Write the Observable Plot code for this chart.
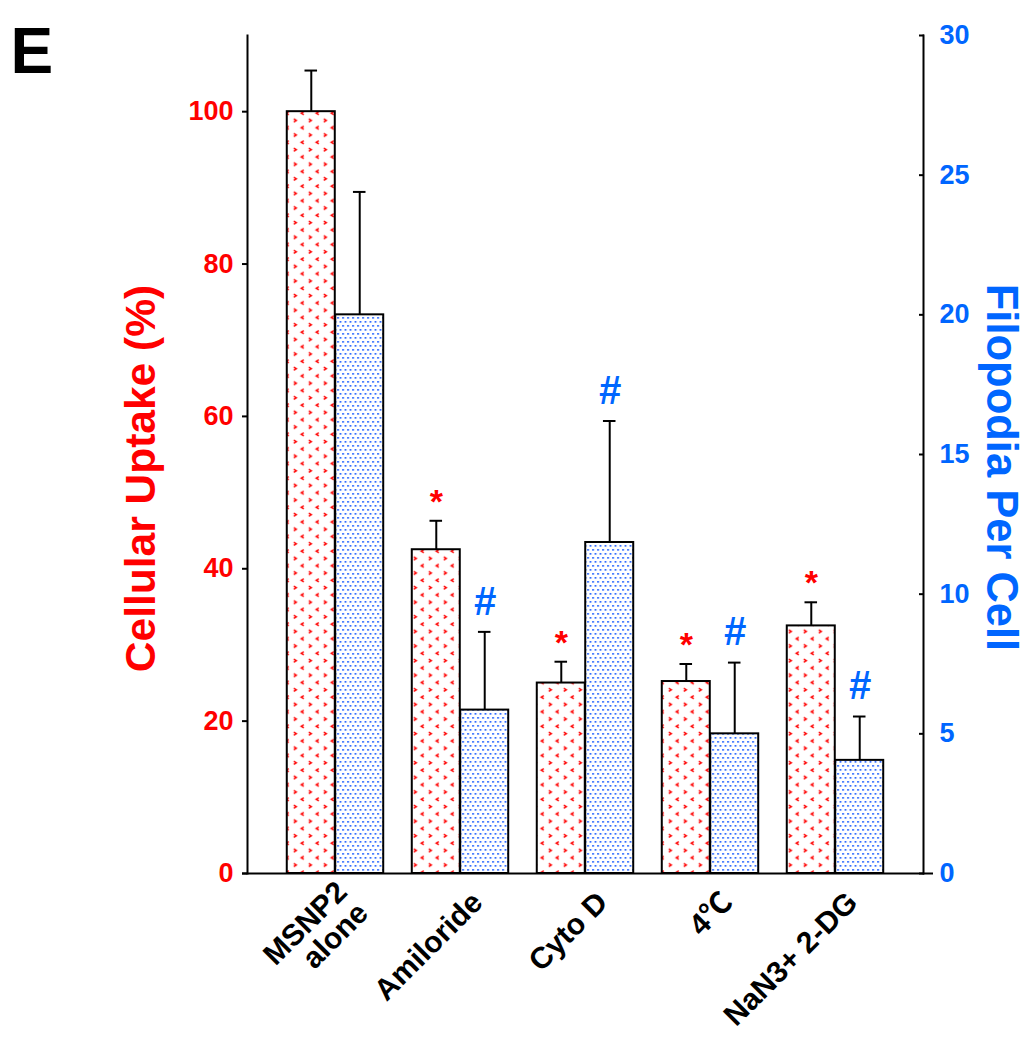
<!DOCTYPE html>
<html>
<head>
<meta charset="utf-8">
<script src="https://cdn.jsdelivr.net/npm/d3@7"></script>
<script src="https://cdn.jsdelivr.net/npm/@observablehq/plot@0.6"></script>
<style>
  html, body { margin: 0; padding: 0; background: #fff; }
</style>
</head>
<body>
<div id="chart"></div>
<script>
// ---- data ----
const categories = ["MSNP2\nalone", "Amiloride", "Cyto D", "4\u2103", "NaN3+ 2-DG"];
const uptake = [100, 42.5, 25.0, 25.2, 32.5];          // Cellular Uptake (%)
const uptakeSD = [5.4, 3.8, 2.8, 2.3, 3.1];
const filopodia = [20.0, 5.85, 11.85, 5.0, 4.05];     // Filopodia per cell
const filopodiaSD = [4.4, 2.8, 4.35, 2.55, 1.57];
const uptakeMark = ["", "*", "*", "*", "*"];
const filopodiaMark = ["", "#", "#", "#", "#"];
const leftTicks = [0, 20, 40, 60, 80, 100];
const rightTicks = [0, 5, 10, 15, 20, 25, 30];
const leftMax = 110, rightMax = 30;

// ---- layout ----
const W = 1029, H = 1050;
const mL = 247, mR = 106, mT = 35, mB = 177;
const pIn = 0.614, pOut = 0.5;
const step = (W - mL - mR) / (categories.length - pIn + 2 * pOut);
const bw = step * (1 - pIn);
const k = leftMax / rightMax;
const RED = "#ff0000", BLUE = "#0066ff";
const FONT = "'Liberation Sans', Arial, 'Noto Sans CJK SC', sans-serif";

const rows = categories.map((c, i) => ({
  cat: c,
  u: uptake[i], uTop: uptake[i] + uptakeSD[i], uMark: uptakeMark[i],
  f: filopodia[i] * k, fTop: (filopodia[i] + filopodiaSD[i]) * k, fMark: filopodiaMark[i]
}));
const capInset = (bw - 13) / 2;

const chart = Plot.plot({
  width: W, height: H,
  marginLeft: mL, marginRight: mR, marginTop: mT, marginBottom: mB,
  style: {fontFamily: FONT, background: "#fff", color: "black"},
  x: {domain: categories, paddingInner: pIn, paddingOuter: pOut, axis: null},
  y: {domain: [0, leftMax], axis: null},
  marks: [
    // bars
    Plot.barY(rows, {x: "cat", y: "u", dx: -bw / 2, fill: "url(#redPat)", stroke: "black", strokeWidth: 2}),
    Plot.barY(rows, {x: "cat", y: "f", dx: bw / 2, fill: "url(#bluePat)", stroke: "black", strokeWidth: 2}),
    // error bars
    Plot.ruleX(rows, {x: "cat", y1: "u", y2: "uTop", dx: -bw / 2, strokeWidth: 2}),
    Plot.ruleX(rows, {x: "cat", y1: "f", y2: "fTop", dx: bw / 2, strokeWidth: 2}),
    Plot.tickY(rows, {x: "cat", y: "uTop", dx: -bw / 2, insetLeft: capInset, insetRight: capInset, strokeWidth: 2}),
    Plot.tickY(rows, {x: "cat", y: "fTop", dx: bw / 2, insetLeft: capInset, insetRight: capInset, strokeWidth: 2}),
    // significance marks
    Plot.text(rows, {x: "cat", y: "uTop", text: "uMark", dx: -bw / 2, dy: -19, fill: RED, fontSize: 34, fontWeight: "bold"}),
    Plot.text(rows, {x: "cat", y: "fTop", text: "fMark", dx: bw / 2, dy: -30, fill: BLUE, fontSize: 40, fontWeight: "bold", fontStyle: "italic"}),
    // axis lines
    Plot.frame({anchor: "left", strokeWidth: 2}),
    Plot.frame({anchor: "right", strokeWidth: 2}),
    Plot.ruleY([0], {insetLeft: -5, insetRight: -10, strokeWidth: 2}),
    // left axis
    Plot.axisY(leftTicks, {anchor: "left", tickSize: 5, tickPadding: 9, strokeWidth: 2, stroke: "black", fill: RED,
      fontSize: 27, fontWeight: "bold", label: null}),
    // right axis (Filopodia per cell, mapped onto same y scale)
    Plot.axisY(rightTicks.map(v => v * k), {anchor: "right", tickFormat: d => String(Math.round(d / k)),
      tickSize: 5, insetRight: 5, tickPadding: 16, strokeWidth: 2, stroke: "black", fill: BLUE,
      fontSize: 27, fontWeight: "bold", label: null}),
    // category labels
    Plot.text(rows, {x: "cat", text: "cat", frameAnchor: "bottom", rotate: -45, textAnchor: "end", lineAnchor: "middle",
      dx: 17, dy: 24, fontSize: 30, fontWeight: "bold", fill: "black"}),
    // axis titles
    Plot.text(["Cellular Uptake (%)"], {text: d => d, frameAnchor: "left", rotate: -90, textAnchor: "middle",
      dx: -106, dy: 24, fill: RED, fontSize: 42.5, fontWeight: "bold"}),
    Plot.text(["Filopodia Per Cell"], {text: d => d, frameAnchor: "right", rotate: 90, textAnchor: "middle",
      dx: 77, dy: 13, fill: BLUE, fontSize: 43.5, fontWeight: "bold"}),
    // panel letter
    Plot.text(["E"], {text: d => d, frameAnchor: "top-left", textAnchor: "start", lineAnchor: "top",
      dx: -237, dy: -8, fontSize: 64, fontWeight: "bold", fill: "black"})
  ]
});

// hatch patterns
const svg = d3.select(chart);
const defs = svg.insert("defs", ":first-child");
const rp = defs.append("pattern").attr("id", "redPat").attr("patternUnits", "userSpaceOnUse")
  .attr("width", 15).attr("height", 14.6);
rp.append("rect").attr("width", 15).attr("height", 14.6).attr("fill", "#fff");
rp.append("path").attr("d", "M3,2 L5.5,3.6 L3,5.2").attr("fill", "none").attr("stroke", "#ff0000").attr("stroke-width", 1.5);
rp.append("path").attr("d", "M13,9.3 L10.5,10.9 L13,12.5").attr("fill", "none").attr("stroke", "#ff0000").attr("stroke-width", 1.5);
const bp = defs.append("pattern").attr("id", "bluePat").attr("patternUnits", "userSpaceOnUse")
  .attr("width", 5).attr("height", 8);
bp.append("rect").attr("width", 5).attr("height", 8).attr("fill", "#fff");
bp.append("rect").attr("x", 0.5).attr("y", 1).attr("width", 1.7).attr("height", 1.7).attr("fill", "#1a5cff");
bp.append("rect").attr("x", 3).attr("y", 5).attr("width", 1.7).attr("height", 1.7).attr("fill", "#1a5cff");

document.getElementById("chart").appendChild(chart);
</script>
</body>
</html>
